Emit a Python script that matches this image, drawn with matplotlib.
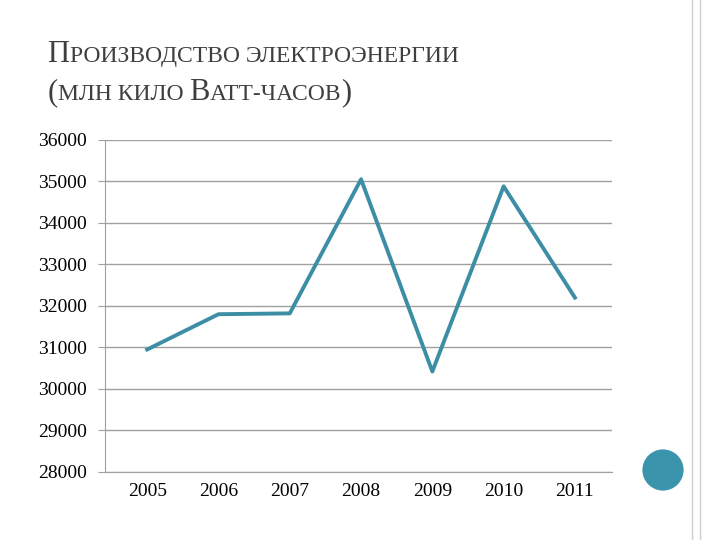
import matplotlib
matplotlib.use("Agg")
import matplotlib.pyplot as plt
from matplotlib.patches import Circle
from matplotlib.lines import Line2D

years = ["2005", "2006", "2007", "2008", "2009", "2010", "2011"]
values = [30950, 31800, 31820, 35050, 30420, 34880, 32200]

plt.rcParams['font.family'] = ['Liberation Serif', 'DejaVu Serif']
fig = plt.figure(figsize=(7.2, 5.4), dpi=100)
ax = fig.add_axes([0.146, 0.126, 0.704, 0.615])
x = list(range(len(years)))
ax.plot(x, values, color="#3c8ea5", lw=2.8)
ax.set_ylim(28000, 36000)
ax.set_xlim(-0.59, 6.52)
ax.set_yticks(range(28000, 36001, 1000))
ax.set_xticks(x)
ax.set_xticklabels(years)
ax.yaxis.grid(True, color="#a0a0a0", lw=1)
for s in ["top", "right"]:
    ax.spines[s].set_visible(False)
for s in ["left", "bottom"]:
    ax.spines[s].set_color("#a0a0a0")
ax.tick_params(axis="y", length=5, color="#a0a0a0", labelsize=14, pad=8)
ax.tick_params(axis="x", length=0, labelsize=14, pad=8)

title_color = "#3f3f3f"
def smallcaps(fig, x0, y0, parts):
    r = fig.canvas.get_renderer()
    xx = x0
    for txt, size in parts:
        t = fig.text(xx, y0, txt, fontsize=size, color=title_color, va="baseline")
        bb = t.get_window_extent(renderer=r)
        xx += bb.width / fig.bbox.width
smallcaps(fig, 0.066, 0.885, [("П", 22), ("РОИЗВОДСТВО ЭЛЕКТРОЭНЕРГИИ", 17)])
smallcaps(fig, 0.066, 0.815, [("(", 22), ("МЛН КИЛО ", 17), ("В", 22), ("АТТ-ЧАСОВ", 17), (")", 22)])

fig.add_artist(Line2D([0.961, 0.961], [0, 1], color="#d0d0d0", lw=1, transform=fig.transFigure))
fig.add_artist(Line2D([0.972, 0.972], [0, 1], color="#d0d0d0", lw=1, transform=fig.transFigure))
fig.add_artist(Circle((663, 70), 22, transform=None, facecolor="#3a94ac", edgecolor="white", lw=2, zorder=5))
fig.savefig("out.png")
